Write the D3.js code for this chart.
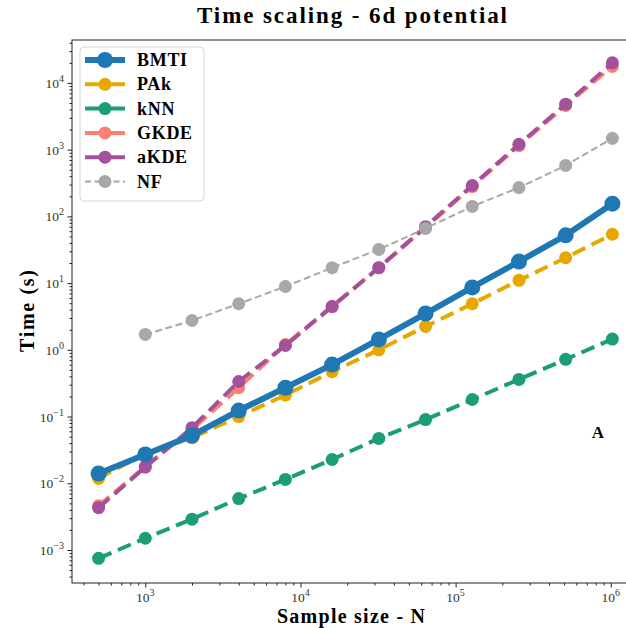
<!DOCTYPE html>
<html>
<head>
<meta charset="utf-8">
<script src="https://cdn.jsdelivr.net/npm/d3@7"></script>
<style>
  body { margin: 0; background: #fff; }
  text { font-family: "Liberation Serif", "DejaVu Serif", serif; }
</style>
</head>
<body>
<div id="chart"></div>
<script>
// sample sizes
const sizes = [500, 1000, 2000, 4000, 8000, 16000, 32000, 64000, 128000, 256000, 512000, 1024000];
const nfSizes = sizes.slice(1);

// times (s)
const bmti = [0.014, 0.027, 0.052, 0.123, 0.27, 0.60, 1.43, 3.5, 8.6, 21, 52, 155];
const pak = [0.0118, 0.028, 0.048, 0.10, 0.21, 0.47, 1.0, 2.24, 4.9, 11, 24, 54];
const knn = [0.00075, 0.0015, 0.0029, 0.0059, 0.0114, 0.0227, 0.047, 0.09, 0.18, 0.36, 0.72, 1.45];
const gkde = [0.0046, 0.0178, 0.064, 0.27, 1.2, 4.5, 17, 68, 280, 1150, 4600, 17700];
const akde = [0.0043, 0.0175, 0.068, 0.335, 1.16, 4.45, 17, 70, 290, 1200, 4800, 20000];
const nf = [1.7, 2.75, 4.9, 8.9, 17, 32, 66, 141, 270, 580, 1480];

const xTicks = [1e3, 1e4, 1e5, 1e6];
const yTicks = [1e-3, 1e-2, 1e-1, 1e0, 1e1, 1e2, 1e3, 1e4];

const series = [
  { name: 'PAk', x: sizes, y: pak, color: '#e6a800', lw: 4, dash: '14,7', r: 6.5 },
  { name: 'kNN', x: sizes, y: knn, color: '#1b9e77', lw: 4, dash: '14,7', r: 6.5 },
  { name: 'GKDE', x: sizes, y: gkde, color: '#fa8072', lw: 4, dash: '14,7', r: 6.5 },
  { name: 'aKDE', x: sizes, y: akde, color: '#a3519a', lw: 4, dash: '14,7', r: 6.5 },
  { name: 'NF', x: nfSizes, y: nf, color: '#a8a8a8', lw: 2, dash: '7,3.5', r: 6.5 },
  { name: 'BMTI', x: sizes, y: bmti, color: '#1f77b4', lw: 6, dash: null, r: 8 }
];
const legendOrder = ['BMTI', 'PAk', 'kNN', 'GKDE', 'aKDE', 'NF'];

const W = 626, H = 628;
const m = { left: 72, top: 40, right: -6, bottom: 45 };

const svg = d3.select('#chart').append('svg')
  .attr('width', W).attr('height', H);

const x = d3.scaleLog().domain([337, 1.37e6]).range([m.left, W - m.right]);
const y = d3.scaleLog().domain([3.2e-4, 4.4e4]).range([H - m.bottom, m.top]);

// frame
svg.append('rect')
  .attr('x', m.left).attr('y', m.top)
  .attr('width', W - m.right - m.left).attr('height', H - m.bottom - m.top)
  .attr('fill', 'none').attr('stroke', '#222').attr('stroke-width', 1);

// minor ticks
const xMinor = [];
for (let e = 2; e <= 6; e++) for (let k = 2; k <= 9; k++) {
  const v = k * Math.pow(10, e);
  if (v > x.domain()[0] && v < x.domain()[1]) xMinor.push(v);
}
const yMinor = [];
for (let e = -4; e <= 4; e++) for (let k = 2; k <= 9; k++) {
  const v = k * Math.pow(10, e);
  if (v > y.domain()[0] && v < y.domain()[1]) yMinor.push(v);
}

function sup(sel, d) {
  const e = Math.round(Math.log10(d));
  sel.text('10');
  sel.append('tspan').attr('dy', -6).attr('font-size', 10)
    .text(e < 0 ? '\u2212' + (-e) : e);
}

const gx = svg.append('g').attr('transform', `translate(0,${H - m.bottom})`);
gx.call(d3.axisBottom(x).tickValues(xMinor).tickSize(2.5).tickFormat(''));
gx.append('g').call(d3.axisBottom(x).tickValues(xTicks).tickSize(4.5).tickFormat(''));
gx.selectAll('.domain').remove();
gx.selectAll('line').attr('stroke', '#222');
gx.selectAll('.xlab').data(xTicks).enter().append('text')
  .attr('class', 'xlab')
  .attr('x', d => x(d)).attr('y', 19)
  .attr('text-anchor', 'middle').attr('font-size', 13.5).attr('fill', '#333')
  .each(function(d) { sup(d3.select(this), d); });

const gy = svg.append('g').attr('transform', `translate(${m.left},0)`);
gy.call(d3.axisLeft(y).tickValues(yMinor).tickSize(2.5).tickFormat(''));
gy.append('g').call(d3.axisLeft(y).tickValues(yTicks).tickSize(4.5).tickFormat(''));
gy.selectAll('.domain').remove();
gy.selectAll('line').attr('stroke', '#222');
gy.selectAll('.ylab').data(yTicks).enter().append('text')
  .attr('class', 'ylab')
  .attr('x', -8).attr('y', d => y(d) + 5)
  .attr('text-anchor', 'end').attr('font-size', 13.5).attr('fill', '#333')
  .each(function(d) { sup(d3.select(this), d); });

// series
const line = d3.line().x(d => x(d[0])).y(d => y(d[1]));
const plot = svg.append('g');
series.forEach(s => {
  const pts = s.x.map((v, i) => [v, s.y[i]]);
  const g = plot.append('g');
  g.append('path').datum(pts)
    .attr('d', line)
    .attr('fill', 'none')
    .attr('stroke', s.color)
    .attr('stroke-width', s.lw)
    .attr('stroke-dasharray', s.dash)
    .attr('stroke-linejoin', 'round');
  g.selectAll('circle').data(pts).enter().append('circle')
    .attr('cx', d => x(d[0])).attr('cy', d => y(d[1]))
    .attr('r', s.r).attr('fill', s.color);
});

// legend
const lg = svg.append('g').attr('transform', 'translate(80,47)');
lg.append('rect')
  .attr('width', 124).attr('height', 154).attr('rx', 4)
  .attr('fill', '#fff').attr('fill-opacity', 0.85)
  .attr('stroke', '#d6d6d6');
legendOrder.forEach((n, i) => {
  const s = series.find(t => t.name === n);
  const row = lg.append('g').attr('transform', `translate(0,${13 + i * 24.3})`);
  row.append('line')
    .attr('x1', 5).attr('x2', 45)
    .attr('stroke', s.color).attr('stroke-width', s.lw)
    .attr('stroke-dasharray', s.name === 'NF' ? '6,3.5' : null);
  row.append('circle').attr('cx', 25).attr('r', s.r).attr('fill', s.color);
  row.append('text')
    .attr('x', 57).attr('y', 6)
    .attr('font-size', 18).attr('font-weight', 'bold')
    .attr('letter-spacing', 0.7)
    .text(n);
});

// texts
svg.append('text')
  .attr('x', 352).attr('y', 23).attr('text-anchor', 'middle')
  .attr('font-size', 23).attr('font-weight', 'bold')
  .attr('textLength', 310).attr('lengthAdjust', 'spacing')
  .text('Time scaling - 6d potential');
svg.append('text')
  .attr('x', 351).attr('y', 623).attr('text-anchor', 'middle')
  .attr('font-size', 20).attr('font-weight', 'bold')
  .attr('textLength', 148).attr('lengthAdjust', 'spacing')
  .text('Sample size - N');
svg.append('text')
  .attr('transform', 'translate(34,311) rotate(-90)')
  .attr('text-anchor', 'middle')
  .attr('font-size', 20).attr('font-weight', 'bold')
  .attr('textLength', 82).attr('lengthAdjust', 'spacing')
  .text('Time (s)');
svg.append('text')
  .attr('x', 598).attr('y', 438).attr('text-anchor', 'middle')
  .attr('font-size', 17).attr('font-weight', 'bold')
  .text('A');
</script>
</body>
</html>
